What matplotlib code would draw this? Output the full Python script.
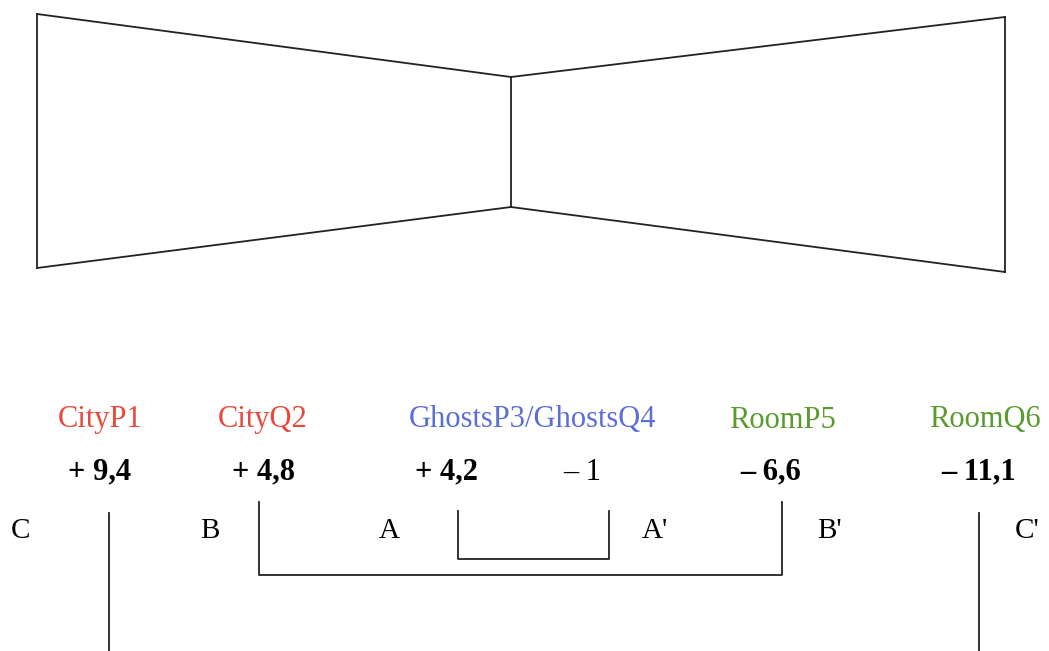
import matplotlib.pyplot as plt

plt.rcParams['font.family'] = ['Liberation Serif', 'DejaVu Serif']

# room outline (pixel coords of the drawing)
wall_x = [37, 511, 1005]
wall_top = [14, 77, 17]
wall_bot = [268, 207, 272]

# labels
names = ['CityP1', 'CityQ2', 'GhostsP3/GhostsQ4', 'RoomP5', 'RoomQ6']
name_x = [100, 263, 532, 782, 985]
name_col = ['#e8493c', '#e8493c', '#5b6ed8', '#5a9a2f', '#5a9a2f']

values = ['+ 9,4', '+ 4,8', '+ 4,2', '\u2013 1', '\u2013 6,6', '\u2013 11,1']
value_x = [100, 264, 446, 582, 771, 979]
value_bold = [True, True, True, False, True, True]

letters = ['C', 'B', 'A', "A'", "B'", "C'"]
letter_x = [21, 210, 389, 655, 829, 1027]

# brackets: left x, right x, top y, bottom y
brackets = {
    'A': (458, 609, 511, 559),
    'B': (259, 782, 502, 575),
    'C': (109, 979, 513, 652),
}

fig = plt.figure(figsize=(10.49, 6.51), dpi=100)
ax = fig.add_axes([0, 0, 1, 1])
ax.set_xlim(0, 1049)
ax.set_ylim(651, 0)
ax.axis('off')

lw = 1.3
# room
for i in range(3):
    ax.plot([wall_x[i], wall_x[i]], [wall_top[i], wall_bot[i]], color='#222222', lw=lw)
for i in range(2):
    ax.plot([wall_x[i], wall_x[i+1]], [wall_top[i], wall_top[i+1]], color='#222222', lw=lw)
    ax.plot([wall_x[i], wall_x[i+1]], [wall_bot[i], wall_bot[i+1]], color='#222222', lw=lw)

for n, x, c in zip(names, name_x, name_col):
    ax.text(x, 420, n, color=c, fontsize=22, ha='center', va='center')

for v, x, b in zip(values, value_x, value_bold):
    ax.text(x, 472, v, color='black', fontsize=22, ha='center', va='center',
            fontweight='bold' if b else 'normal')

for l, x in zip(letters, letter_x):
    ax.text(x, 531, l, color='black', fontsize=21, ha='center', va='center')

for k, (x0, x1, yt, yb) in brackets.items():
    ax.plot([x0, x0, x1, x1], [yt, yb, yb, yt], color='#222222', lw=lw)

fig.savefig('out.png', dpi=100)
